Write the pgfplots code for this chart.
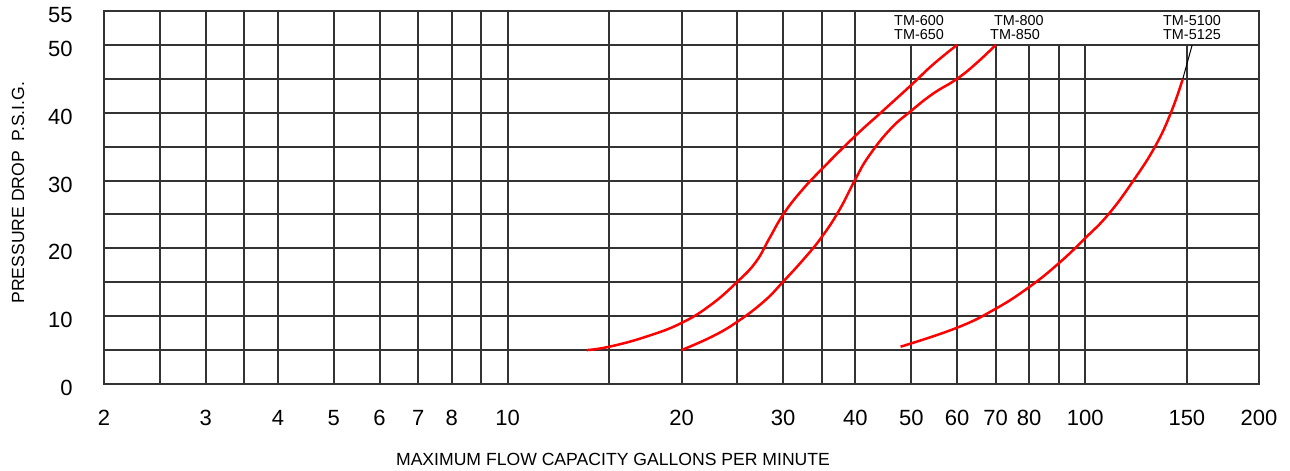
\documentclass[border=0pt]{standalone}
\usepackage{fontspec}
\setmainfont{Liberation Sans}
\usepackage{pgfplots}
\pgfplotsset{compat=1.18}
\begin{document}
\begin{tikzpicture}
\begin{axis}[
 scale only axis, width=577.5pt, height=186.5pt,
 xmode=log, xmin=2, xmax=200, ymin=0, ymax=55,
 xtick={2,3,4,5,6,7,8,10,20,30,40,50,60,70,80,100,150,200},
 xticklabels={2,3,4,5,6,7,8,10,20,30,40,50,60,70,80,100,150,200},
 minor xtick={},
 ytick={0,5,...,55},
 yticklabels={0,,10,,20,,30,,40,,50,55},
 ymajorgrids, xmajorgrids=false,
 major tick length=0pt, minor tick length=0pt,
 grid style={black!80, line width=1pt},
 axis line style={black!80, line width=1pt},
 tick label style={font=\fontsize{11}{13}\selectfont},
 /pgf/number format/assume math mode=true,
 xticklabel style={anchor=base, yshift=-20.5pt},
 yticklabel style={anchor=east, inner sep=0pt, xshift=-15.5pt, yshift=-2pt},
 xlabel={MAXIMUM FLOW CAPACITY GALLONS PER MINUTE},
 ylabel={PRESSURE DROP\ \ P.S.I.G.},
 label style={font=\fontsize{8.8}{10}\selectfont},
 xlabel style={at={(axis description cs:0.4407,-0.2198)}, anchor=base},
 ylabel style={at={(axis description cs:-0.0745,0.513)}, anchor=center},
]
% vertical grid lines
\addplot[ycomb, black!80, line width=1pt, forget plot] coordinates {
 (2.5,55)(3,55)(3.5,55)(4,55)(5,55)(6,55)(7,55)(8,55)(9,55)(10,55)
 (15,55)(20,55)(25,55)(30,55)(35,55)(40,55)};
\addplot[ycomb, black!80, line width=1pt, forget plot] coordinates {
 (50,50)(60,50)(70,50)(80,50)(90,50)(100,50)(150,50)};
% TM-600 / TM-650
\addplot[red, line width=1.25pt, smooth, tension=0.75] coordinates {
 (13.7,5.0)(15,5.5)(17.4,7.0)(20,9.0)(22.5,11.7)(25,15.1)(26.9,18.0)
 (28.4,21.5)(30,25)(32.2,28.4)(35,31.7)(40,36.6)(44.4,40.1)
 (50,44.1)(54.5,47.1)(60,50)};
% TM-800 / TM-850
\addplot[red, line width=1.25pt, smooth, tension=0.75] coordinates {
 (20,5)(22.6,7.0)(25,9.2)(27.8,12.2)(30,15.1)(32.7,18.6)(35,21.7)
 (37.5,25.6)(40,30.2)(42.2,33.6)(46,37.6)(50,40.3)(54.5,42.8)(60,45)
 (65,47.4)(70,50)};
% TM-5100 / TM-5125
\addplot[red, line width=1.25pt, smooth, tension=0.75] coordinates {
 (47.9,5.5)(60,8.3)(70,11.1)(80,14.3)(90,17.8)(100,21.5)
 (109.9,25.1)(121.2,30)(132.3,35.1)(140.9,40.1)(147.6,45)};
\addplot[black, line width=0.5pt] coordinates {(147.6,45)(153.2,50)};
\node[font=\fontsize{7.2}{8}\selectfont] at (axis cs:51.56,53.53) {TM-600};
\node[font=\fontsize{7.2}{8}\selectfont] at (axis cs:51.56,51.46) {TM-650};
\node[font=\fontsize{7.2}{8}\selectfont] at (axis cs:76.8,53.53) {TM-800};
\node[font=\fontsize{7.2}{8}\selectfont] at (axis cs:75.6,51.46) {TM-850};
\node[font=\fontsize{7.2}{8}\selectfont] at (axis cs:153.1,53.53) {TM-5100};
\node[font=\fontsize{7.2}{8}\selectfont] at (axis cs:153.1,51.46) {TM-5125};
\end{axis}
\pgfresetboundingbox
\path (-52pt,-43.5pt) rectangle (593pt,192pt);
\end{tikzpicture}
\end{document}
